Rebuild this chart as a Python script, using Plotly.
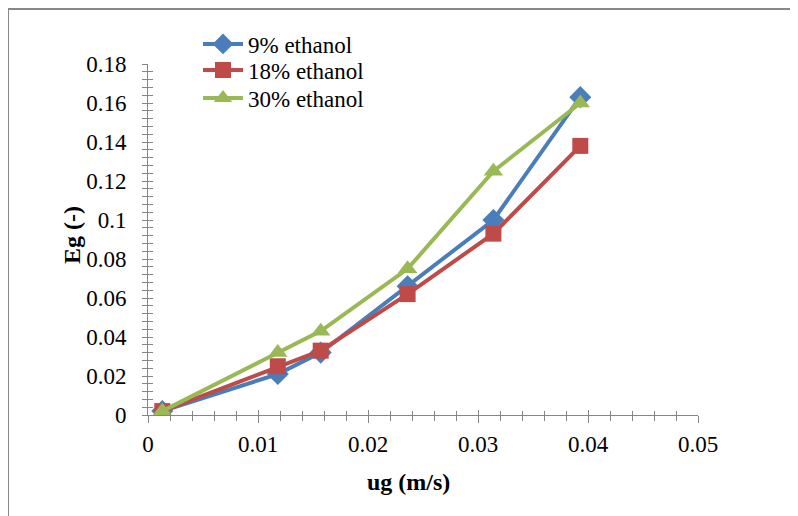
import plotly.graph_objects as go

ug = [0.0013, 0.0118, 0.0157, 0.0236, 0.0314, 0.0393]
eg_9 = [0.002, 0.021, 0.032, 0.066, 0.100, 0.163]
eg_18 = [0.002, 0.025, 0.033, 0.062, 0.093, 0.138]
eg_30 = [0.002, 0.032, 0.043, 0.075, 0.125, 0.160]
series_names = ["9% ethanol", "18% ethanol", "30% ethanol"]
colors = ["#4a7ebb", "#be4b48", "#98b954"]
symbols = ["diamond", "square", "triangle-up"]
sizes = [17, 16, 17]
legend_ids = ["legend", "legend2", "legend3"]

FONT = "Liberation Serif"

L, R, T, B = 140, 100, 56, 101
W, H = 790, 508
pw, ph = W - L - R, H - T - B

fig = go.Figure()
for name, ys, c, s, sz, lg in zip(series_names, [eg_9, eg_18, eg_30], colors, symbols, sizes, legend_ids):
    fig.add_trace(go.Scatter(x=ug, y=ys, name=name, mode="lines+markers", legend=lg,
                             line=dict(color=c, width=4),
                             marker=dict(symbol=s, size=sz, color=c)))

# invisible trace bound to overlay axes (for crossing ticks)
fig.add_trace(go.Scatter(x=[None], y=[None], xaxis="x2", yaxis="y2", showlegend=False, hoverinfo="skip"))

axis_common = dict(showgrid=False, zeroline=False, showline=True, linecolor="#868686", linewidth=1,
                   tickcolor="#868686", tickfont=dict(family=FONT, size=23, color="black"))

row_centers = [36, 62, 90]  # figure px
legend_layout = {}
for lg, yc in zip(legend_ids, row_centers):
    legend_layout[lg] = dict(x=(190 - L) / pw, y=(H - B - yc) / ph, xanchor="left", yanchor="middle",
                             bgcolor="rgba(0,0,0,0)", font=dict(family=FONT, size=23),
                             itemwidth=40)

fig.update_layout(
    width=W, height=H,
    margin=dict(l=L, r=R, t=T, b=B, autoexpand=False),
    paper_bgcolor="white", plot_bgcolor="white",
    font=dict(family=FONT, color="black"),
    xaxis=dict(range=[0, 0.05], dtick=0.01, tickformat="~g", ticks="outside", ticklen=7,
               minor=dict(dtick=0.002, ticks="outside", ticklen=5, tickcolor="#868686"),
               ticklabelstandoff=1, **axis_common),
    yaxis=dict(range=[0, 0.18], dtick=0.02, tickformat="~g", ticks="outside", ticklen=5,
               minor=dict(dtick=0.004, ticks="outside", ticklen=5, tickcolor="#868686"),
               ticklabelstandoff=11, **axis_common),
    xaxis2=dict(overlaying="x", matches="x", range=[0, 0.05], dtick=0.01, showticklabels=False,
                showgrid=False, zeroline=False, showline=False, ticks="inside", ticklen=5,
                tickcolor="#868686", minor=dict(dtick=0.002, ticks="inside", ticklen=4, tickcolor="#868686")),
    yaxis2=dict(overlaying="y", matches="y", range=[0, 0.18], dtick=0.02, showticklabels=False,
                showgrid=False, zeroline=False, showline=False, ticks="inside", ticklen=5,
                tickcolor="#868686", minor=dict(dtick=0.004, ticks="inside", ticklen=5, tickcolor="#868686")),
    showlegend=True,
    annotations=[
        dict(text="<b>ug (m/s)</b>", xref="paper", yref="paper", x=(400 - L) / pw, y=(H - B - 474) / ph,
             showarrow=False, font=dict(family=FONT, size=24, color="black"), xanchor="center", yanchor="middle"),
        dict(text="<b>Eg (-)</b>", xref="paper", yref="paper", x=(64 - L) / pw, y=(H - B - 227) / ph,
             showarrow=False, textangle=-90, font=dict(family=FONT, size=24, color="black"),
             xanchor="center", yanchor="middle"),
    ],
    shapes=[dict(type="rect", xref="paper", yref="paper",
                 x0=(0 - L) / pw, x1=2, y0=-1, y1=(H - B - 1) / ph,
                 line=dict(color="#888888", width=2), fillcolor="rgba(0,0,0,0)", layer="below")],
    **legend_layout,
)

fig.write_html("out.html")
